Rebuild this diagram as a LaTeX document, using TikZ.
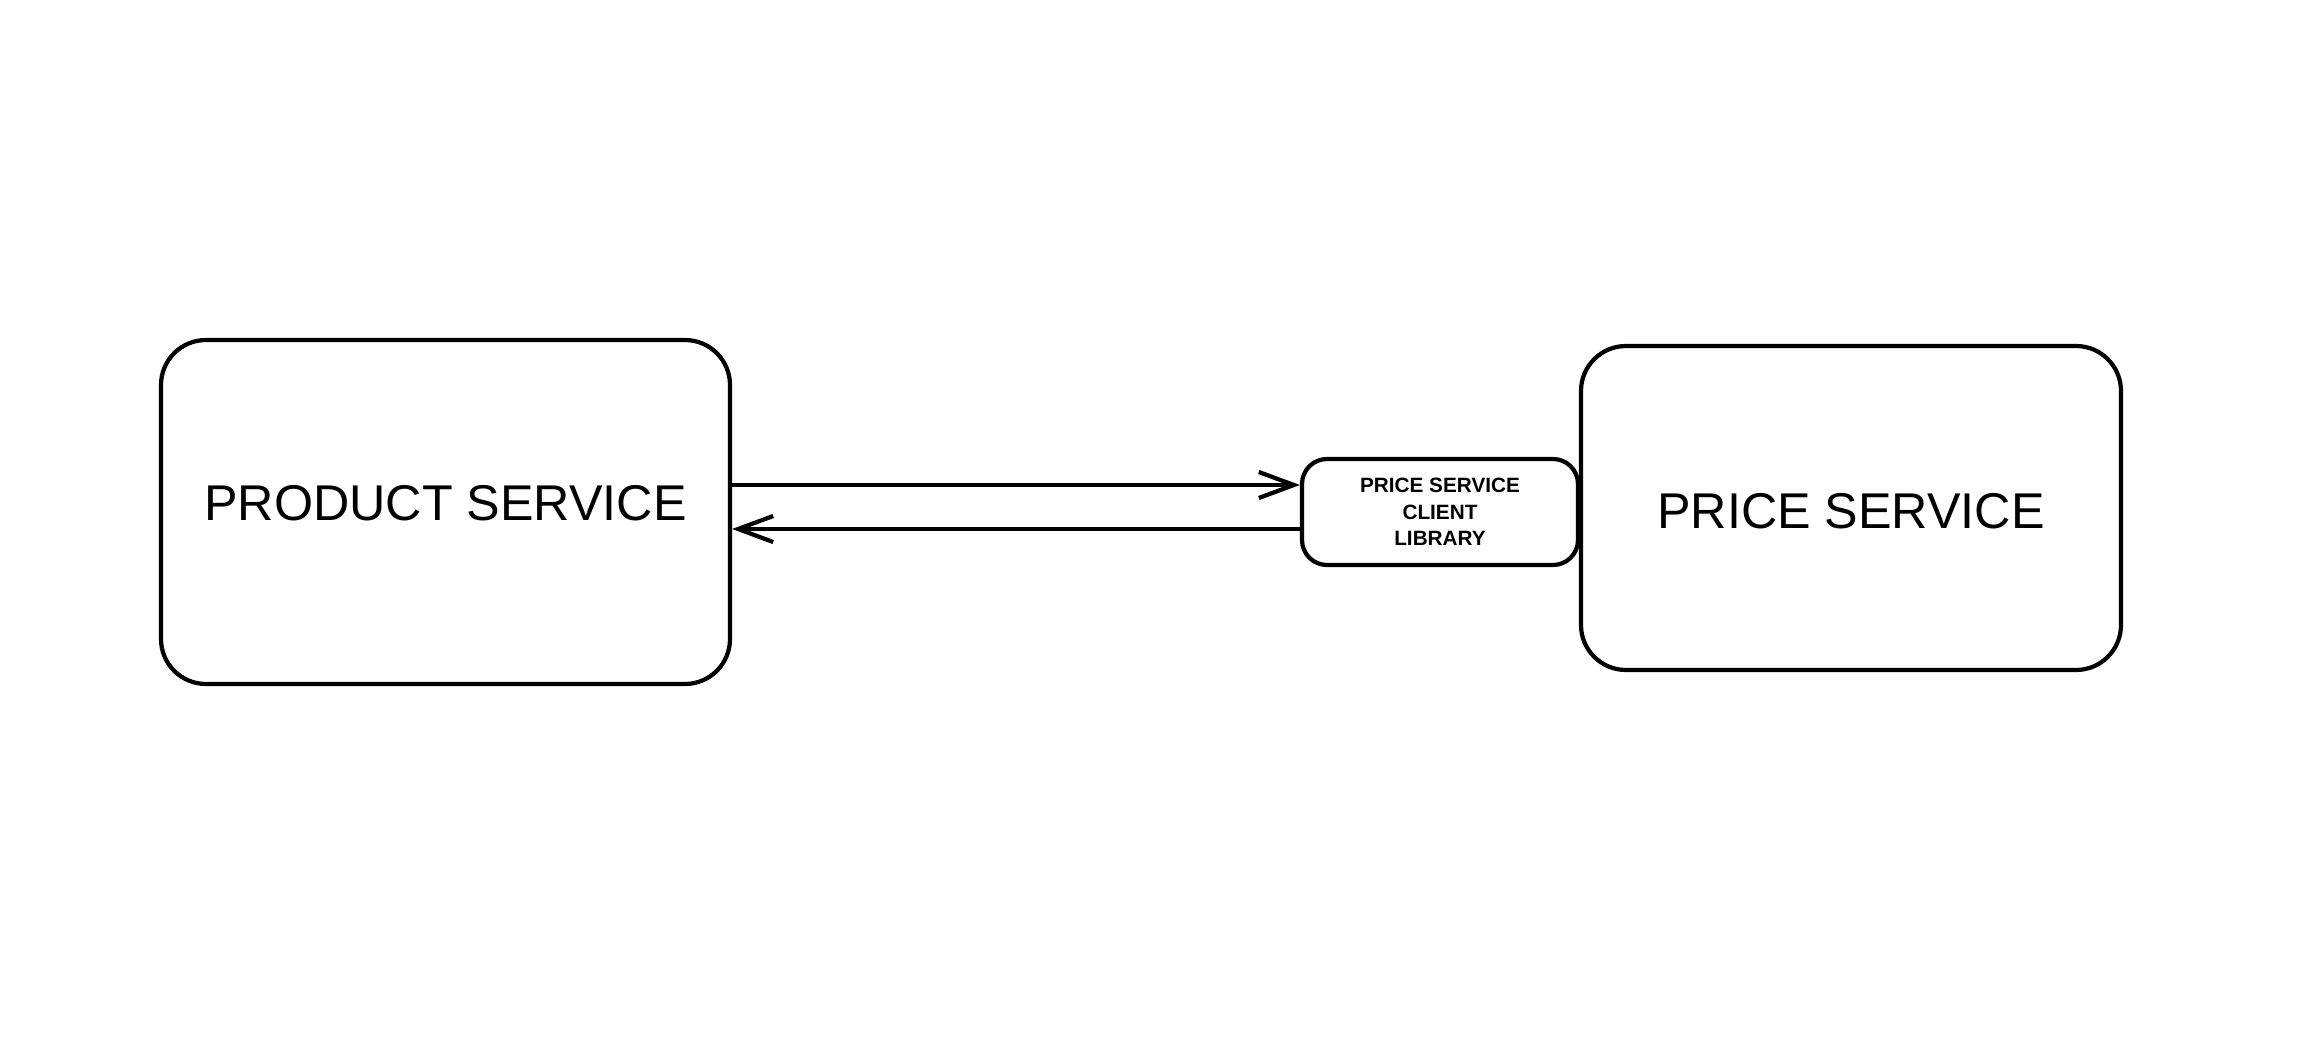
\documentclass[tikz,border=0pt]{standalone}
\usepackage{fontspec}
\setmainfont{Liberation Sans}
\usetikzlibrary{arrows.meta}

\begin{document}
\begin{tikzpicture}[
    service/.style={draw, line width=1.2pt, rounded corners=4.5mm, font=\fontsize{14.3}{16}\selectfont},
    client/.style={draw, line width=1.2pt, rounded corners=2.5mm, align=center,
      font=\bfseries\fontsize{5.9}{7.5}\selectfont},
    call/.style={line width=1.2pt, -{Straight Barb[length=3.5mm,width=2.6mm,line width=1.2pt]}}]
\useasboundingbox (0,0) rectangle (23,-10.48);
\node[service, minimum width=5.69cm, minimum height=3.44cm] (product) at (4.455,-5.12) {\raisebox{0.9mm}[\height][\depth]{PRODUCT SERVICE}};
\node[service, minimum width=5.40cm, minimum height=3.24cm] (price) at (18.51,-5.08) {\raisebox{-0.3mm}[\height][\depth]{PRICE SERVICE}};
\node[client, minimum width=2.76cm, minimum height=1.06cm] (client) at (14.40,-5.12) {PRICE SERVICE\\CLIENT\\LIBRARY};
% request and response
\draw[call] ([yshift=2.7mm]product.east) -- ([yshift=2.7mm]client.west);
\draw[call] ([yshift=-1.7mm]client.west) -- ([yshift=-1.7mm]product.east);
\end{tikzpicture}
\end{document}
